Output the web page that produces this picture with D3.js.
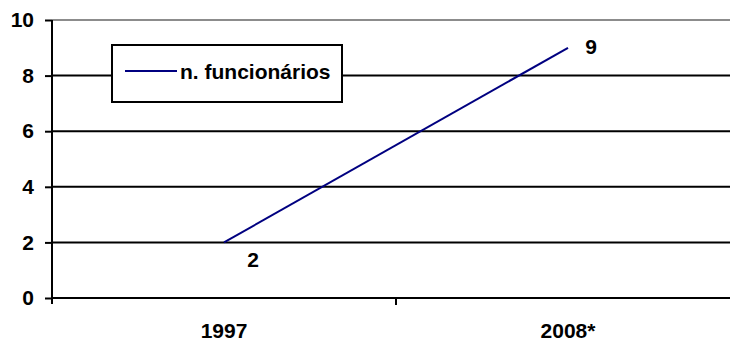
<!DOCTYPE html>
<html>
<head>
<meta charset="utf-8">
<script src="https://cdn.jsdelivr.net/npm/d3@7"></script>
<style>
  body { margin: 0; background: #fff; }
  svg { display: block; font-family: "Liberation Sans", Arial, sans-serif; font-weight: bold; }
</style>
</head>
<body>
<svg id="chart" width="730" height="342"></svg>
<script>
const categories = ["1997", "2008*"];
const employees = [2, 9];
const yTicks = [0, 2, 4, 6, 8, 10];
const seriesName = "n. funcionários";

const FONT = "Liberation Sans, Arial, sans-serif";
const FS = 21;

const svg = d3.select("#chart");
const m = { left: 52, top: 20, right: -10, bottom: 44 };
const W = 730, H = 342;

const x = d3.scaleBand().domain(categories).range([m.left, W - m.right]);
const y = d3.scaleLinear().domain([0, 10]).range([H - m.bottom, m.top]);

// horizontal gridlines
svg.append("g").selectAll("line").data(yTicks).join("line")
  .attr("x1", m.left).attr("x2", W)
  .attr("y1", d => y(d)).attr("y2", d => y(d))
  .attr("stroke", d => d === 10 ? "#8c8c8c" : "#000")
  .attr("stroke-width", 2);

// y axis
const yAxis = svg.append("g").attr("transform", `translate(${m.left},0)`)
  .call(d3.axisLeft(y).tickValues(yTicks).tickSize(7).tickPadding(11));
yAxis.select(".domain").attr("stroke-width", 2).attr("d", `M-0,${y(10)}V${y(0) + 6}`);
yAxis.selectAll(".tick line").attr("stroke-width", 2);
yAxis.selectAll("text").attr("font-size", FS).attr("font-weight", "bold").attr("fill", "#000")
  .attr("font-family", FONT);

// x axis
const xAxis = svg.append("g").attr("transform", `translate(0,${y(0)})`)
  .call(d3.axisBottom(x).tickSize(0).tickPadding(25));
xAxis.select(".domain").remove();
xAxis.selectAll("text").attr("font-size", FS).attr("font-weight", "bold").attr("fill", "#000")
  .attr("font-family", FONT);
// category separator ticks
svg.append("g").selectAll("line").data(categories.slice(1)).join("line")
  .attr("x1", d => x(d)).attr("x2", d => x(d))
  .attr("y1", y(0)).attr("y2", y(0) + 7)
  .attr("stroke", "#000").attr("stroke-width", 2);

// series line
const pts = categories.map((c, i) => [x(c) + x.bandwidth() / 2, y(employees[i])]);
svg.append("path").datum(pts)
  .attr("d", d3.line())
  .attr("fill", "none").attr("stroke", "#000080").attr("stroke-width", 2);

// value labels
svg.append("text").attr("x", pts[0][0] + 29).attr("y", pts[0][1] + 25)
  .attr("text-anchor", "middle").attr("font-size", FS).text(employees[0]);
svg.append("text").attr("x", pts[1][0] + 23).attr("y", pts[1][1] + 6)
  .attr("text-anchor", "middle").attr("font-size", FS).text(employees[1]);

// legend
const lg = svg.append("g").attr("transform", "translate(112,45)");
lg.append("rect").attr("width", 230).attr("height", 57)
  .attr("fill", "#fff").attr("stroke", "#000").attr("stroke-width", 2);
lg.append("line").attr("x1", 13).attr("x2", 65).attr("y1", 26).attr("y2", 26)
  .attr("stroke", "#000080").attr("stroke-width", 2);
lg.append("text").attr("x", 68).attr("y", 34).attr("font-size", FS).text(seriesName);
</script>
</body>
</html>
